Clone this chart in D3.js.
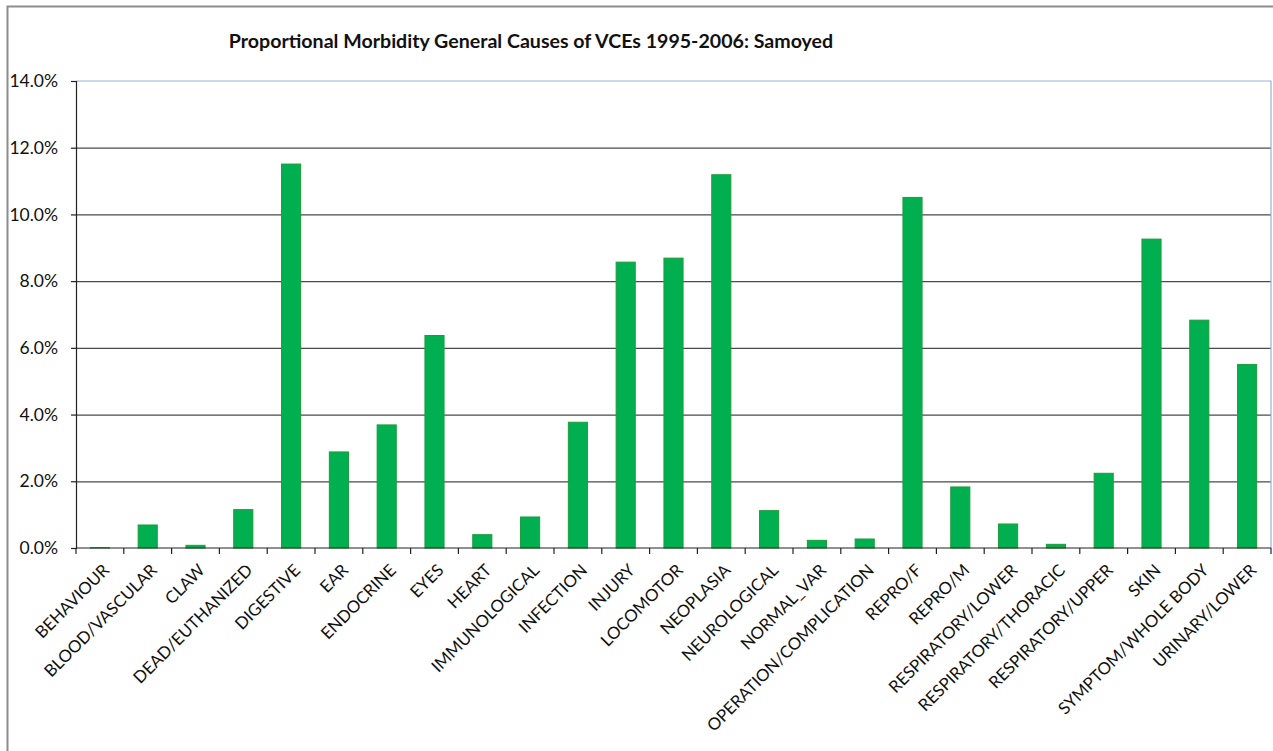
<!DOCTYPE html>
<html>
<head>
<meta charset="utf-8">
<script src="https://cdn.jsdelivr.net/npm/d3@7"></script>
<style>
  html, body { margin: 0; padding: 0; background: #fff; }
  svg { display: block; }
  text { font-family: Lato, "Open Sans", sans-serif; fill: #111; }
</style>
</head>
<body>
<svg id="chart" width="1273" height="751"></svg>
<script>
const title = "Proportional Morbidity General Causes of VCEs 1995-2006: Samoyed";
const categories = ["BEHAVIOUR","BLOOD/VASCULAR","CLAW","DEAD/EUTHANIZED","DIGESTIVE","EAR","ENDOCRINE","EYES","HEART","IMMUNOLOGICAL","INFECTION","INJURY","LOCOMOTOR","NEOPLASIA","NEUROLOGICAL","NORMAL_VAR","OPERATION/COMPLICATION","REPRO/F","REPRO/M","RESPIRATORY/LOWER","RESPIRATORY/THORACIC","RESPIRATORY/UPPER","SKIN","SYMPTOM/WHOLE BODY","URINARY/LOWER"];
const values = [0.01, 0.69, 0.08, 1.15, 11.51, 2.88, 3.69, 6.37, 0.40, 0.93, 3.77, 8.57, 8.69, 11.19, 1.12, 0.23, 0.27, 10.51, 1.83, 0.72, 0.11, 2.24, 9.26, 6.83, 5.50];
const yTicks = [0, 2, 4, 6, 8, 10, 12, 14];

const svg = d3.select("#chart");
const m = { left: 76, right: 1271, top: 81, bottom: 548 };

// outer chart border
svg.append("rect").attr("x", 7.5).attr("y", 6.5).attr("width", 1300).attr("height", 800)
  .attr("fill", "none").attr("stroke", "#8c8c8c").attr("stroke-width", 2);

const x = d3.scaleBand().domain(categories).range([m.left, m.right])
  .paddingInner(0.6).paddingOuter(0.3);
const y = d3.scaleLinear().domain([0, 14]).range([m.bottom, m.top]);

// gridlines
const grid = svg.append("g").attr("transform", `translate(${m.left},0)`)
  .call(d3.axisLeft(y).tickValues(yTicks.filter(v => v > 0 && v < 14)).tickSize(-(m.right - m.left)).tickFormat(""));
grid.select(".domain").remove();
grid.selectAll("line").attr("stroke", "#4a4a4a").attr("stroke-width", 1.2);

// plot area border top/right (light blue)
svg.append("path")
  .attr("d", `M${m.left},${y(14)}H${m.right}V${y(0)}`)
  .attr("fill", "none").attr("stroke", "#95b3d7").attr("stroke-width", 1.2);

// bars
svg.append("g").selectAll("rect").data(values).join("rect")
  .attr("x", (d, i) => x(categories[i]))
  .attr("y", d => y(d))
  .attr("width", x.bandwidth())
  .attr("height", d => y(0) - y(d))
  .attr("fill", "#00b050")
  .attr("stroke", "#1f9c3a")
  .attr("stroke-width", 1);

// y axis
const yAxis = svg.append("g").attr("transform", `translate(${m.left},0)`)
  .call(d3.axisLeft(y).tickValues(yTicks).tickSize(5).tickPadding(13).tickFormat(d => d.toFixed(1) + "%"));
yAxis.select(".domain").attr("stroke", "#222").attr("stroke-width", 1.2);
yAxis.selectAll(".tick line").attr("stroke", "#222").attr("stroke-width", 1.2);
yAxis.selectAll("text").style("font-family", "Lato, sans-serif").attr("font-size", 17.5).attr("fill", "#111");

// x axis line and boundary ticks
const half = (x.step() - x.bandwidth()) / 2;
const bounds = categories.map(c => x(c) - half).concat([x(categories[categories.length - 1]) + x.bandwidth() + half]);
const xg = svg.append("g");
xg.append("line").attr("x1", m.left).attr("x2", m.right).attr("y1", y(0)).attr("y2", y(0))
  .attr("stroke", "#222").attr("stroke-width", 1.2);
xg.selectAll("line.tk").data(bounds).join("line").attr("class", "tk")
  .attr("x1", d => d).attr("x2", d => d).attr("y1", y(0)).attr("y2", y(0) + 6)
  .attr("stroke", "#222").attr("stroke-width", 1.2);

// x labels
xg.selectAll("text").data(categories).join("text")
  .attr("transform", c => `translate(${x(c) + x.bandwidth() / 2 + 2},${y(0) + 15}) rotate(-45)`)
  .attr("text-anchor", "end")
  .attr("dy", "0.7em")
  .attr("font-size", 16.8)
  .text(c => c);

// title
svg.append("text").attr("x", 531).attr("y", 48).attr("text-anchor", "middle")
  .attr("font-size", 19.6).attr("font-weight", "bold").text(title);
</script>
</body>
</html>
